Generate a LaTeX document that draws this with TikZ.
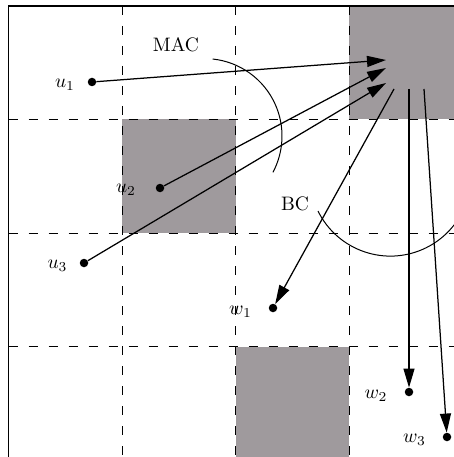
\documentclass[tikz,border=0pt]{standalone}
\usetikzlibrary{arrows.meta}
\definecolor{cellgray}{RGB}{159,154,157}
\tikzset{
  gridline/.style={line width=1pt, dash pattern=on 9pt off 11pt, black},
  frameline/.style={line width=1.2pt},
  dot/.style={circle, fill=black, inner sep=0pt, minimum size=8.5pt},
  arr/.style={line width=1.25pt, -{Triangle[length=19pt,width=11pt]}},
  lab/.style={inner sep=0pt, scale=1.95, transform shape},
  rangearc/.style={line width=1pt},
  cell/.style={fill=cellgray, draw=none}
}
\begin{document}
\begin{tikzpicture}[x=1pt,y=-1pt]
\useasboundingbox (0,0) rectangle (454,457);
\clip (0,0) rectangle (454,457);
% gray cells
\fill[cell] (349,6) rectangle (462.5,119.5);
\fill[cell] (122,119.5) rectangle (235.5,233);
\fill[cell] (235.5,346.5) rectangle (349,460);
% grid
\foreach \x in {122,235.5,349} \draw[gridline] (\x,6) -- (\x,460);
\foreach \y in {119.5,233,346.5} \draw[gridline] (8.5,\y) -- (462.5,\y);
% frame
\draw[frameline] (8.5,460) -- (8.5,6) -- (462.5,6);
% dots
\node[dot] (u1) at (92,82) {};
\node[dot] (u2) at (160,188) {};
\node[dot] (u3) at (84,263) {};
\node[dot] (w1) at (273,308) {};
\node[dot] (w2) at (409,392) {};
\node[dot] (w3) at (447,437) {};
% labels
\node[lab] (lu1) at (65,85) {$u_1$};
\node[lab] (lu2) at (126,190) {$u_2$};
\node[lab] (lu3) at (57.5,266) {$u_3$};
\node[lab] (lw1) at (240.5,312) {$w_1$};
\node[lab] (lw2) at (376,396) {$w_2$};
\node[lab] (lw3) at (414.5,440) {$w_3$};
\node[lab] (mac) at (176,45) {MAC};
\node[lab] (bc) at (295,204) {BC};
% arrow end points at the base station
\coordinate (t1) at (386,60);
\coordinate (t2) at (386,68);
\coordinate (t3) at (386,83);
\coordinate (s1) at (394,89);
\coordinate (s2) at (409,89);
\coordinate (s3) at (424,89);
\draw[arr] (u1) -- (t1);
\draw[arr] (u2) -- (t2);
\draw[arr] (u3) -- (t3);
\draw[arr] (s1) -- (w1);
\draw[arr] (s2) -- (w2);
\draw[arr] (s3) -- (w3);
% range arcs
\draw[rangearc] (204.6,136) ++(-84:77.4) arc[start angle=-84, end angle=28, radius=77.4];
\draw[rangearc] (390.4,175.4) ++(153.8:80.7) arc[start angle=153.8, end angle=25, radius=80.7];
\end{tikzpicture}
\end{document}
